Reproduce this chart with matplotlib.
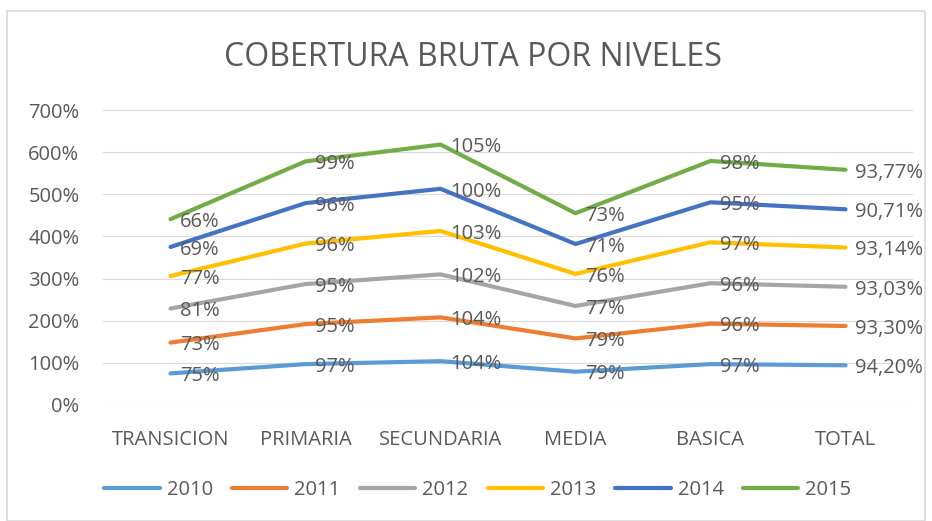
import matplotlib
matplotlib.use("Agg")
import matplotlib.pyplot as plt
import numpy as np
from matplotlib.patches import Rectangle

categories = ["TRANSICION", "PRIMARIA", "SECUNDARIA", "MEDIA", "BASICA", "TOTAL"]
years = ["2010", "2011", "2012", "2013", "2014", "2015"]
v2010 = [75, 97, 104, 79, 97, 94.20]
v2011 = [73, 95, 104, 79, 96, 93.30]
v2012 = [81, 95, 102, 77, 96, 93.03]
v2013 = [77, 96, 103, 76, 97, 93.14]
v2014 = [69, 96, 100, 71, 95, 90.71]
v2015 = [66, 99, 105, 73, 98, 93.77]
series = [v2010, v2011, v2012, v2013, v2014, v2015]
colors = ["#5B9BD5", "#ED7D31", "#A5A5A5", "#FFC000", "#4472C4", "#70AD47"]
yticks = [0, 100, 200, 300, 400, 500, 600, 700]

plt.rcParams['font.family'] = ['Open Sans', 'DejaVu Sans']
txt = "#595959"
fs = 14.5

fig = plt.figure(figsize=(9.32, 5.21), dpi=100)
ax = fig.add_axes([103/932, 1-405/521, (913-103)/932, (405-110)/521])

x = np.arange(len(categories))
cum = np.zeros(len(categories))
for vals, c, yr in zip(series, colors, years):
    vals = np.array(vals, dtype=float)
    cum = cum + vals
    ax.plot(x, cum, color=c, lw=3, label=yr, solid_capstyle='round', solid_joinstyle='round')
    for i, (xi, yi, v) in enumerate(zip(x, cum, vals)):
        if i == len(categories) - 1:
            s = f"{v:.2f}%".replace(".", ",")
        else:
            s = f"{v:.0f}%"
        ax.annotate(s, (xi, yi), xytext=(7, -2), textcoords='offset points',
                    ha='left', va='center', fontsize=fs, color=txt)

ax.set_xlim(-0.5, len(categories) - 0.5)
ax.set_ylim(0, 700)
ax.set_yticks(yticks)
ax.set_yticklabels([f"{t}%" for t in yticks], fontsize=fs, color=txt)
ax.set_xticks(x)
ax.set_xticklabels(categories, fontsize=fs, color=txt)
ax.tick_params(length=0)
ax.tick_params(axis='x', pad=18)
ax.tick_params(axis='y', pad=17)
ax.grid(axis='y', color='#D9D9D9', lw=0.8)
ax.set_axisbelow(True)
for s in ax.spines.values():
    s.set_visible(False)

fig.text(473/932, 1-57/521, "COBERTURA BRUTA POR NIVELES", ha='center', va='center',
         fontsize=23, color=txt)

leg = fig.legend(loc='center', bbox_to_anchor=(478/932, 1-490/521), ncol=6, frameon=False,
                 fontsize=fs, handlelength=2.75, columnspacing=0.95, handletextpad=0.35)
for t in leg.get_texts():
    t.set_color(txt)

fig.patches.append(Rectangle((7/932, 0), (925-7)/932, 1-11/521, transform=fig.transFigure,
                             fill=False, edgecolor='#D9D9D9', lw=1.2))

fig.savefig("out.png", dpi=100)
